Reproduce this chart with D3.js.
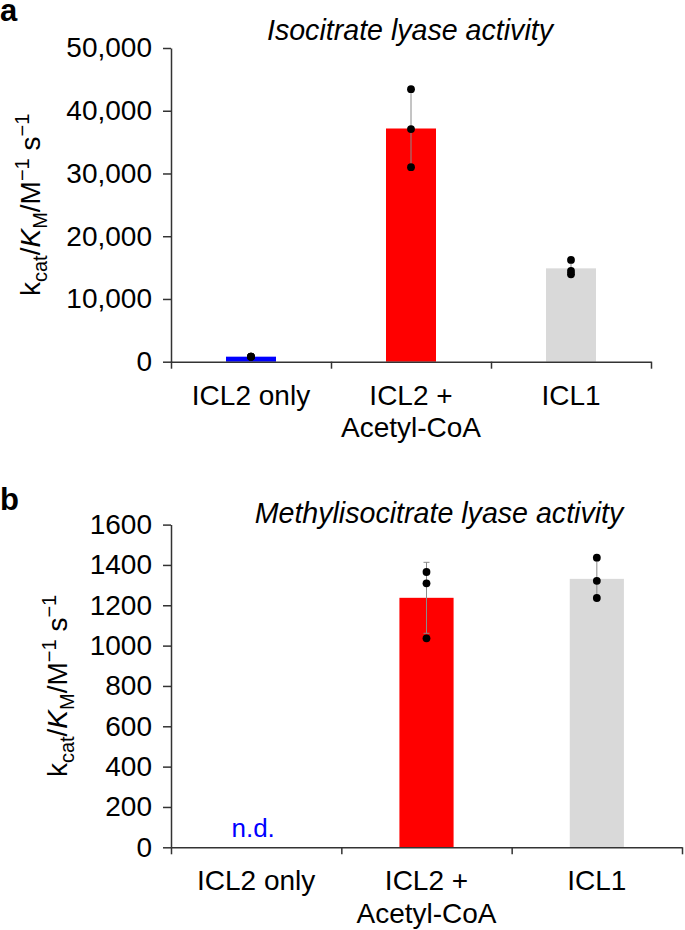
<!DOCTYPE html>
<html>
<head>
<meta charset="utf-8">
<script src="https://cdn.jsdelivr.net/npm/d3@7"></script>
<style>
  html, body { margin: 0; padding: 0; background: #fff; }
  svg { display: block; font-family: "Liberation Sans", Arial, Helvetica, sans-serif; }
</style>
</head>
<body>
<svg id="chart" width="685" height="930"></svg>
<script>
// ---------- data ----------
const categories = ["ICL2 only", "ICL2 +|Acetyl-CoA", "ICL1"];
const barColors = ["#0000ff", "#ff0000", "#d9d9d9"];

// Panel a: isocitrate lyase activity
const iclMeans  = [800, 37170, 14880];
const iclErrors = [0, 6220, 1190];
const iclPoints = [[790, 800, 810], [43440, 37070, 31000], [16220, 14470, 13940]];
const iclTicks  = [0, 10000, 20000, 30000, 40000, 50000];

// Panel b: methylisocitrate lyase activity (ICL2 only not detected)
const mclMeans  = [null, 1237, 1331];
const mclErrors = [0, 176, 100];
const mclPoints = [[], [1365, 1309, 1036], [1436, 1321, 1236]];
const mclTicks  = [0, 200, 400, 600, 800, 1000, 1200, 1400, 1600];

// ---------- drawing ----------
const svg = d3.select("#chart");
const axisColor = "#333";

function panel(opts) {
  const g = svg.append("g");
  const y = d3.scaleLinear().domain(opts.domain).range([opts.y0, opts.y1]);
  const x = d3.scaleBand().domain(categories).range([opts.x0, opts.x1]).paddingInner(opts.pad).paddingOuter(opts.pad / 2);
  const xb = d3.scaleLinear().domain([0, categories.length]).range([opts.x0, opts.x1]);

  // bars
  categories.forEach((c, i) => {
    const v = opts.means[i];
    if (v == null) return;
    g.append("rect")
      .attr("x", x(c)).attr("width", x.bandwidth())
      .attr("y", y(v)).attr("height", y(0) - y(v))
      .attr("fill", barColors[i]);
  });

  // error bars
  categories.forEach((c, i) => {
    const v = opts.means[i], e = opts.errors[i];
    if (v == null || !e) return;
    const cx = x(c) + x.bandwidth() / 2;
    g.append("line").attr("x1", cx).attr("x2", cx)
      .attr("y1", y(v + e)).attr("y2", y(v - e))
      .attr("stroke", "#8a8a8a").attr("stroke-width", 1);
    [v + e, v - e].forEach(t => {
      g.append("line").attr("x1", cx - 3).attr("x2", cx + 3)
        .attr("y1", y(t)).attr("y2", y(t))
        .attr("stroke", "#8a8a8a").attr("stroke-width", 1);
    });
  });

  // points
  categories.forEach((c, i) => {
    const cx = x(c) + x.bandwidth() / 2;
    opts.points[i].forEach(p => {
      g.append("circle").attr("cx", cx).attr("cy", y(p)).attr("r", 3.9).attr("fill", "#000");
    });
  });

  // y axis
  const ya = g.append("g").attr("transform", `translate(${opts.x0},0)`)
    .call(d3.axisLeft(y).tickValues(opts.ticks).tickSize(8).tickPadding(11)
      .tickFormat(opts.fmt).tickSizeOuter(0));
  ya.select(".domain").attr("stroke", axisColor).attr("stroke-width", 1.5);
  ya.selectAll(".tick line").attr("stroke", axisColor).attr("stroke-width", 1.5);
  ya.selectAll(".tick text").attr("fill", "#000").style("font-size", "28px")
    .style("font-family", "'Liberation Sans', Arial, Helvetica, sans-serif");

  // x axis (boundary ticks)
  const xa = g.append("g").attr("transform", `translate(0,${opts.y0})`)
    .call(d3.axisBottom(xb).tickValues(d3.range(categories.length + 1)).tickSize(7).tickFormat("").tickSizeOuter(0));
  xa.select(".domain").attr("stroke", axisColor).attr("stroke-width", 1.5);
  xa.selectAll(".tick line").attr("stroke", axisColor).attr("stroke-width", 1.5);

  // category labels
  categories.forEach(c => {
    const lines = c.split("|");
    const t = g.append("text").attr("text-anchor", "middle")
      .attr("x", x(c) + x.bandwidth() / 2).attr("y", opts.y0 + 43)
      .style("font-size", "28px").attr("fill", "#000");
    lines.forEach((l, k) => {
      t.append("tspan").attr("x", x(c) + x.bandwidth() / 2).attr("dy", k === 0 ? 0 : 32.5).text(l);
    });
  });

  // n.d.
  categories.forEach((c, i) => {
    if (opts.means[i] == null) {
      g.append("text").attr("text-anchor", "middle")
        .attr("x", x(c) + x.bandwidth() / 2 - 3).attr("y", opts.y0 - 10)
        .style("font-size", "26px").attr("fill", "#0000ff").text("n.d.");
    }
  });

  // title
  g.append("text").attr("text-anchor", "middle")
    .attr("x", opts.titleX).attr("y", opts.titleY)
    .style("font-size", "28.6px").style("font-style", "italic").attr("fill", "#000")
    .text(opts.title);

  // panel letter
  g.append("text").attr("x", 0).attr("y", opts.letterY)
    .style("font-size", "31px").style("font-weight", "bold").attr("fill", "#000")
    .text(opts.letter);

  // y label
  const cy = (opts.y0 + opts.y1) / 2;
  const yl = g.append("text").attr("text-anchor", "middle")
    .attr("transform", `translate(${opts.labelX},${cy}) rotate(-90)`)
    .style("font-size", "28px").attr("fill", "#000");
  yl.append("tspan").text("k");
  yl.append("tspan").attr("dy", 7).style("font-size", "20px").text("cat");
  yl.append("tspan").attr("dy", -7).text("/");
  yl.append("tspan").style("font-style", "italic").text("K");
  yl.append("tspan").attr("dy", 7).style("font-size", "20px").text("M");
  yl.append("tspan").attr("dy", -7).text("/M");
  yl.append("tspan").attr("dy", -11).style("font-size", "20px").text("\u22121");
  yl.append("tspan").attr("dy", 11).text(" s");
  yl.append("tspan").attr("dy", -11).style("font-size", "20px").text("\u22121");
}

panel({
  letter: "a", letterY: 21,
  title: "Isocitrate lyase activity", titleX: 410, titleY: 40,
  domain: [0, 50000], y0: 361.7, y1: 48,
  x0: 171, x1: 651, pad: 0.6875,
  means: iclMeans, errors: iclErrors, points: iclPoints, ticks: iclTicks,
  fmt: d3.format(","), labelX: 40
});

panel({
  letter: "b", letterY: 510,
  title: "Methylisocitrate lyase activity", titleX: 439, titleY: 523,
  domain: [0, 1600], y0: 847.3, y1: 524.6,
  x0: 171, x1: 682, pad: 0.682,
  means: mclMeans, errors: mclErrors, points: mclPoints, ticks: mclTicks,
  fmt: d3.format("d"), labelX: 67
});
</script>
</body>
</html>
